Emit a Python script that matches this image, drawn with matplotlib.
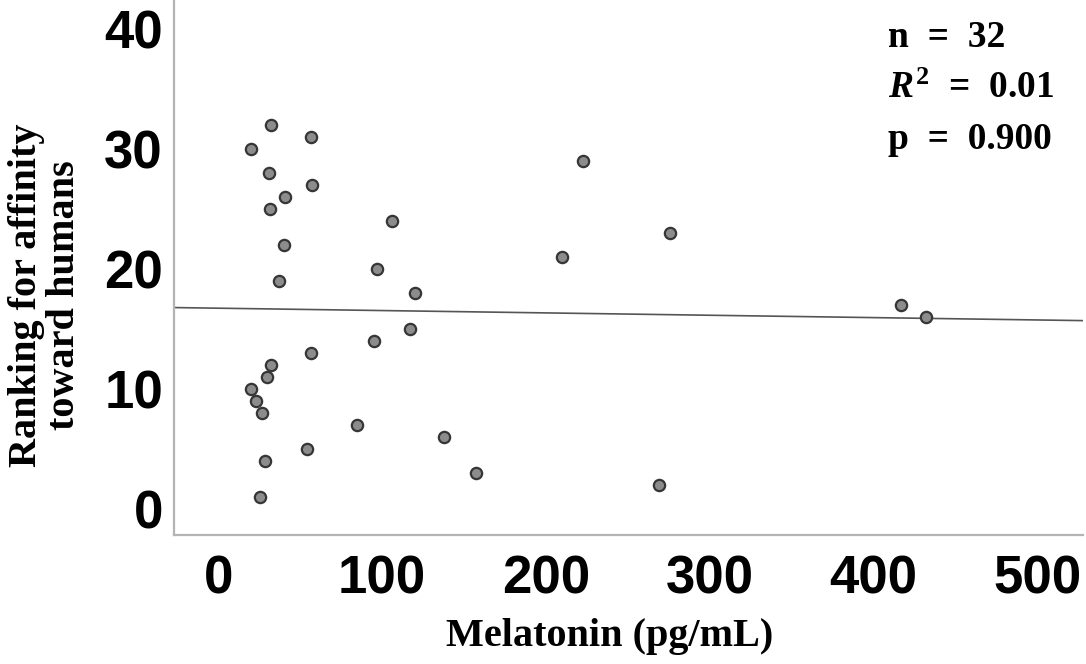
import numpy as np
import matplotlib
matplotlib.use("Agg")
import matplotlib.pyplot as plt

# Melatonin (pg/mL) and affinity ranking
melatonin = [32.4, 56.8, 20.3, 31.3, 57.4, 41.1, 31.9, 40.3, 37.4,
             56.6, 32.2, 29.9, 20.0, 23.0, 27.0, 84.7, 54.5, 28.7, 25.6,
             222.6, 106.2, 275.9, 210.2, 97.3, 120.5, 117.0, 95.4,
             137.8, 157.3, 269.2, 417.0, 432.2]
ranking = [32, 31, 30, 28, 27, 26, 25, 22, 19,
           13, 12, 11, 10, 9, 8, 7, 5, 4, 1,
           29, 24, 23, 21, 20, 18, 15, 14,
           6, 3, 2, 17, 16]

x_ticks = [0, 100, 200, 300, 400, 500]
y_ticks = [0, 10, 20, 30, 40]
sp = "\u2002"  # en space, the reference sets the "=" wide apart
stats_lines = ["n" + sp + "=" + sp + "32",
               r"$R^2$" + sp + "=" + sp + "0.01",
               "p" + sp + "=" + sp + "0.900"]

plt.rcParams['mathtext.fontset'] = 'custom'
plt.rcParams['mathtext.rm'] = 'Liberation Serif:bold'
plt.rcParams['mathtext.it'] = 'Liberation Serif:italic:bold'
plt.rcParams['mathtext.bf'] = 'Liberation Serif:bold'

fig = plt.figure(figsize=(10.86, 6.64), dpi=100)
ax = fig.add_axes([174 / 1086, 129 / 664, 909 / 1086, 535 / 664])

ax.scatter(melatonin, ranking, s=66, facecolor='#8c8c8c', edgecolor='#363636',
           linewidth=1.6, zorder=3)

# least squares fit line across the whole axis
slope, intercept = np.polyfit(melatonin, ranking, 1)
xlim = (-26.9, 528)
xs = np.array(xlim)
ax.plot(xs, intercept + slope * xs, color='#555555', linewidth=1.2, zorder=2)

ax.set_xlim(*xlim)
ax.set_ylim(-2.2, 42.4)
ax.set_xticks(x_ticks)
ax.set_yticks(y_ticks)

tick_font = dict(family='Liberation Sans', weight='bold', size=38)
ax.set_xticklabels([str(v) for v in x_ticks], **tick_font)
ax.set_yticklabels([str(v) for v in y_ticks], **tick_font)
ax.tick_params(axis='x', length=0, pad=14)
ax.tick_params(axis='y', length=0, pad=8)

for side in ['top', 'right']:
    ax.spines[side].set_visible(False)
for side in ['left', 'bottom']:
    ax.spines[side].set_color('#b4b4b4')
    ax.spines[side].set_linewidth(1.6)

ax.set_xlabel('Melatonin (pg/mL)', family='Liberation Serif', weight='bold', size=29)
ax.xaxis.set_label_coords((610 - 174) / 909, -0.156)
ax.set_ylabel('Ranking for affinity\ntoward humans', linespacing=1.05,
              family='Liberation Serif', weight='bold', size=29)
ax.yaxis.set_label_coords(-0.1, 0.449)

for i, line in enumerate(stats_lines):
    fig.text(888 / 1086, 1 - (47 + 51 * i) / 664, line, ha='left', va='baseline',
             family='Liberation Serif', weight='bold', size=27)

fig.savefig('out.png', dpi=100)
